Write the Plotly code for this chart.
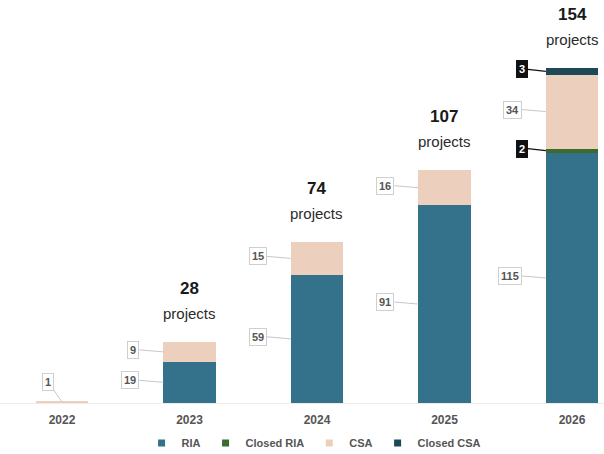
import plotly.graph_objects as go

# Project counts per year, split by instrument type
years = ["2022", "2023", "2024", "2025", "2026"]
ria = [0, 19, 59, 91, 115]
closed_ria = [0, 0, 0, 0, 2]
csa = [1, 9, 15, 16, 34]
closed_csa = [0, 0, 0, 0, 3]
show_total = [False, True, True, True, True]

series = [
    ("RIA", ria, "#34718a"),
    ("Closed RIA", closed_ria, "#3d6a2e"),
    ("CSA", csa, "#eccfbc"),
    ("Closed CSA", closed_csa, "#1e4858"),
]

FONT = "Liberation Sans, Arial, sans-serif"
BAR_W = 0.41
x = list(range(len(years)))

fig = go.Figure()
for name, vals, color in series:
    fig.add_trace(go.Bar(
        x=x, y=vals, name=name, width=BAR_W,
        marker=dict(color=color, line=dict(width=0)),
        showlegend=False, hoverinfo="skip",
    ))
    # compact square legend markers
    fig.add_trace(go.Scatter(
        x=[None], y=[None], mode="markers", name=f"<b>{name}</b>",
        marker=dict(symbol="square", size=7, color=color),
    ))

annotations = []
base = [0] * len(years)
for name, vals, color in series:
    for i, v in enumerate(vals):
        if v <= 0:
            continue
        mid = base[i] + v / 2
        small = v < 5 and name.startswith("Closed")
        if i == 0:
            ax_pt, ax, ay = i, -14, -20
        else:
            ax_pt, ax, ay = i - BAR_W / 2, -18 if small else -24, -2
        annotations.append(dict(
            x=ax_pt, y=mid, xref="x", yref="y",
            text=f"<b>{v}</b>",
            showarrow=True, arrowhead=0, arrowwidth=1.2 if small else 1,
            arrowcolor="#111111" if small else "#c8c8c8",
            ax=ax, ay=ay, xanchor="right" if i else "center",
            bgcolor="#111111" if small else "#ffffff",
            bordercolor="#111111" if small else "#cfcfcf",
            borderwidth=1, borderpad=2,
            font=dict(family=FONT, size=11, color="#ffffff" if small else "#555555"),
        ))
    base = [b + v for b, v in zip(base, vals)]

totals = base
for i, t in enumerate(totals):
    if not show_total[i]:
        continue
    annotations.append(dict(
        x=i, y=t, xref="x", yref="y", text=f"<b>{t}</b>", showarrow=False,
        yanchor="bottom", yshift=42, font=dict(family=FONT, size=17, color="#1a1a1a"),
    ))
    annotations.append(dict(
        x=i, y=t, xref="x", yref="y", text="projects", showarrow=False,
        yanchor="bottom", yshift=18, font=dict(family=FONT, size=15, color="#2a2a2a"),
    ))

fig.update_layout(
    width=604, height=454,
    margin=dict(l=0, r=0, t=0, b=51, autoexpand=False),
    barmode="stack",
    plot_bgcolor="#ffffff", paper_bgcolor="#ffffff",
    font=dict(family=FONT, color="#555555"),
    annotations=annotations,
    showlegend=True,
    legend=dict(
        orientation="h", x=0.52, xanchor="center",
        yref="container", y=0.024, yanchor="middle",
        font=dict(family=FONT, size=11, color="#555555"),
        itemwidth=30, traceorder="normal",
    ),
    xaxis=dict(
        range=[-0.486, 4.251], tickmode="array", tickvals=x, ticktext=[f"<b>{y}</b>" for y in years],
        showgrid=False, zeroline=False, showline=True, linecolor="#ececec", linewidth=1,
        ticks="", ticklabelstandoff=6,
        tickfont=dict(family=FONT, size=12, color="#555555"), fixedrange=True,
    ),
    yaxis=dict(
        range=[0, 185.3], visible=False, showgrid=False, zeroline=False, fixedrange=True,
    ),
)

fig.write_html("out.html")
